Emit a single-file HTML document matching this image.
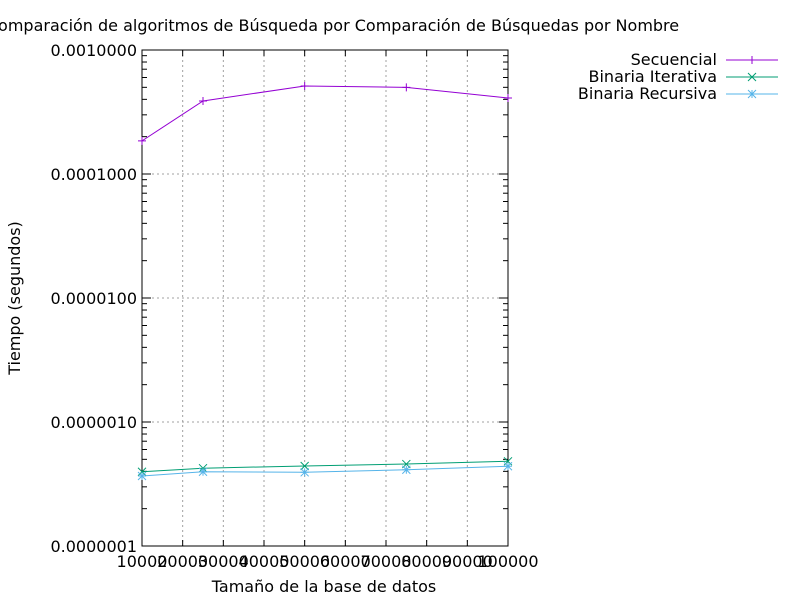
<!DOCTYPE html>
<html><head><meta charset="utf-8"><style>
body{margin:0;background:#fff}
svg{font-family:"DejaVu Sans","Liberation Sans",sans-serif;font-size:16px}
</style></head><body>
<svg id="chart" width="800" height="600">
<rect width="800" height="600" fill="#fff"/>
<text x="333" y="31" text-anchor="middle">Comparación de algoritmos de Búsqueda por Comparación de Búsquedas por Nombre</text>
<g id="grid"></g><g id="axes"></g><g id="series"></g>
<text x="324" y="592" text-anchor="middle">Tamaño de la base de datos</text>
<text transform="translate(20,298) rotate(-90)" text-anchor="middle">Tiempo (segundos)</text>
<g id="legend"></g>
</svg>
<script>
const xCats=[10000,25000,50000,75000,100000];
const secuencial=[1.85e-4,3.88e-4,5.13e-4,5.0e-4,4.1e-4];
const iterativa=[3.97e-7,4.24e-7,4.42e-7,4.58e-7,4.82e-7];
const recursiva=[3.67e-7,3.97e-7,3.93e-7,4.12e-7,4.40e-7];
const xTicks=[10000,20000,30000,40000,50000,60000,70000,80000,90000,100000];
const yTicks=[1e-7,1e-6,1e-5,1e-4,1e-3];
const yTickLabels=["0.0000001","0.0000010","0.0000100","0.0001000","0.0010000"];
const seriesNames=["Secuencial","Binaria Iterativa","Binaria Recursiva"];
const L=142,R=508,T=50,B=546,NS="http://www.w3.org/2000/svg";
const xs=v=>L+(v-10000)/90000*(R-L);
const ys=v=>T+(-3-Math.log10(v))*(B-T)/4;
function mk(p,tag,a,t){const e=document.createElementNS(NS,tag);for(const k in a)e.setAttribute(k,a[k]);if(t!=null)e.textContent=t;document.getElementById(p).appendChild(e);return e;}
xTicks.forEach((v,i)=>{const x=xs(v);
 if(i>0&&i<xTicks.length-1){const g=mk("grid","line",{x1:x,x2:x,y1:T,y2:B,stroke:"#a0a0a0","stroke-dasharray":"2,3"});}
 mk("axes","line",{x1:x,x2:x,y1:B,y2:B-6,stroke:"#000"});mk("axes","line",{x1:x,x2:x,y1:T,y2:T+6,stroke:"#000"});
 const t=mk("axes","text",{x:x,y:567,"text-anchor":"middle"},v);});
yTicks.forEach((v,i)=>{const y=ys(v);
 if(i>0&&i<yTicks.length-1){const g=mk("grid","line",{x1:L,x2:R,y1:y,y2:y,stroke:"#a0a0a0","stroke-dasharray":"2,3"});}
 mk("axes","line",{x1:L,x2:L+9,y1:y,y2:y,stroke:"#000"});mk("axes","line",{x1:R,x2:R-9,y1:y,y2:y,stroke:"#000"});
 if(i<yTicks.length-1)for(let k=2;k<10;k++){const yy=ys(v*k);mk("axes","line",{x1:L,x2:L+5,y1:yy,y2:yy,stroke:"#000"});mk("axes","line",{x1:R,x2:R-5,y1:yy,y2:yy,stroke:"#000"});}
 const t=mk("axes","text",{x:137,y:y+6,"text-anchor":"end"},yTickLabels[i]);});
const fr=mk("axes","rect",{x:L,y:T,width:R-L,height:B-T,fill:"none",stroke:"#000"});

function marker(g,x,y,type,c){const d=4;let p="";
 if(type!==1)p+=`M${x-d} ${y}H${x+d}M${x} ${y-d}V${y+d}`;
 if(type!==0)p+=`M${x-d} ${y-d}L${x+d} ${y+d}M${x-d} ${y+d}L${x+d} ${y-d}`;
 mk(g,"path",{d:p,stroke:c,fill:"none"});}
const data=[secuencial,iterativa,recursiva],cols=["#9400d3","#009e73","#56b4e9"],types=[0,1,2];
data.forEach((s,si)=>{const id="s"+si;const g=document.createElementNS(NS,"g");g.id=id;
 
 
 document.getElementById("series").appendChild(g);
 mk(id,"polyline",{points:s.map((v,i)=>xs(xCats[i])+","+ys(v)).join(" "),fill:"none",stroke:cols[si]});
 s.forEach((v,i)=>marker(id,xs(xCats[i]),ys(v),types[si],cols[si]));
 const y=60+si*17;
 const lt=mk("legend","text",{x:717,y:y+5,"text-anchor":"end"},seriesNames[si]);
 
 mk("legend","line",{x1:726,x2:778,y1:y,y2:y,stroke:cols[si]});marker("legend",752,y,types[si],cols[si]);});
</script>
</body></html>
